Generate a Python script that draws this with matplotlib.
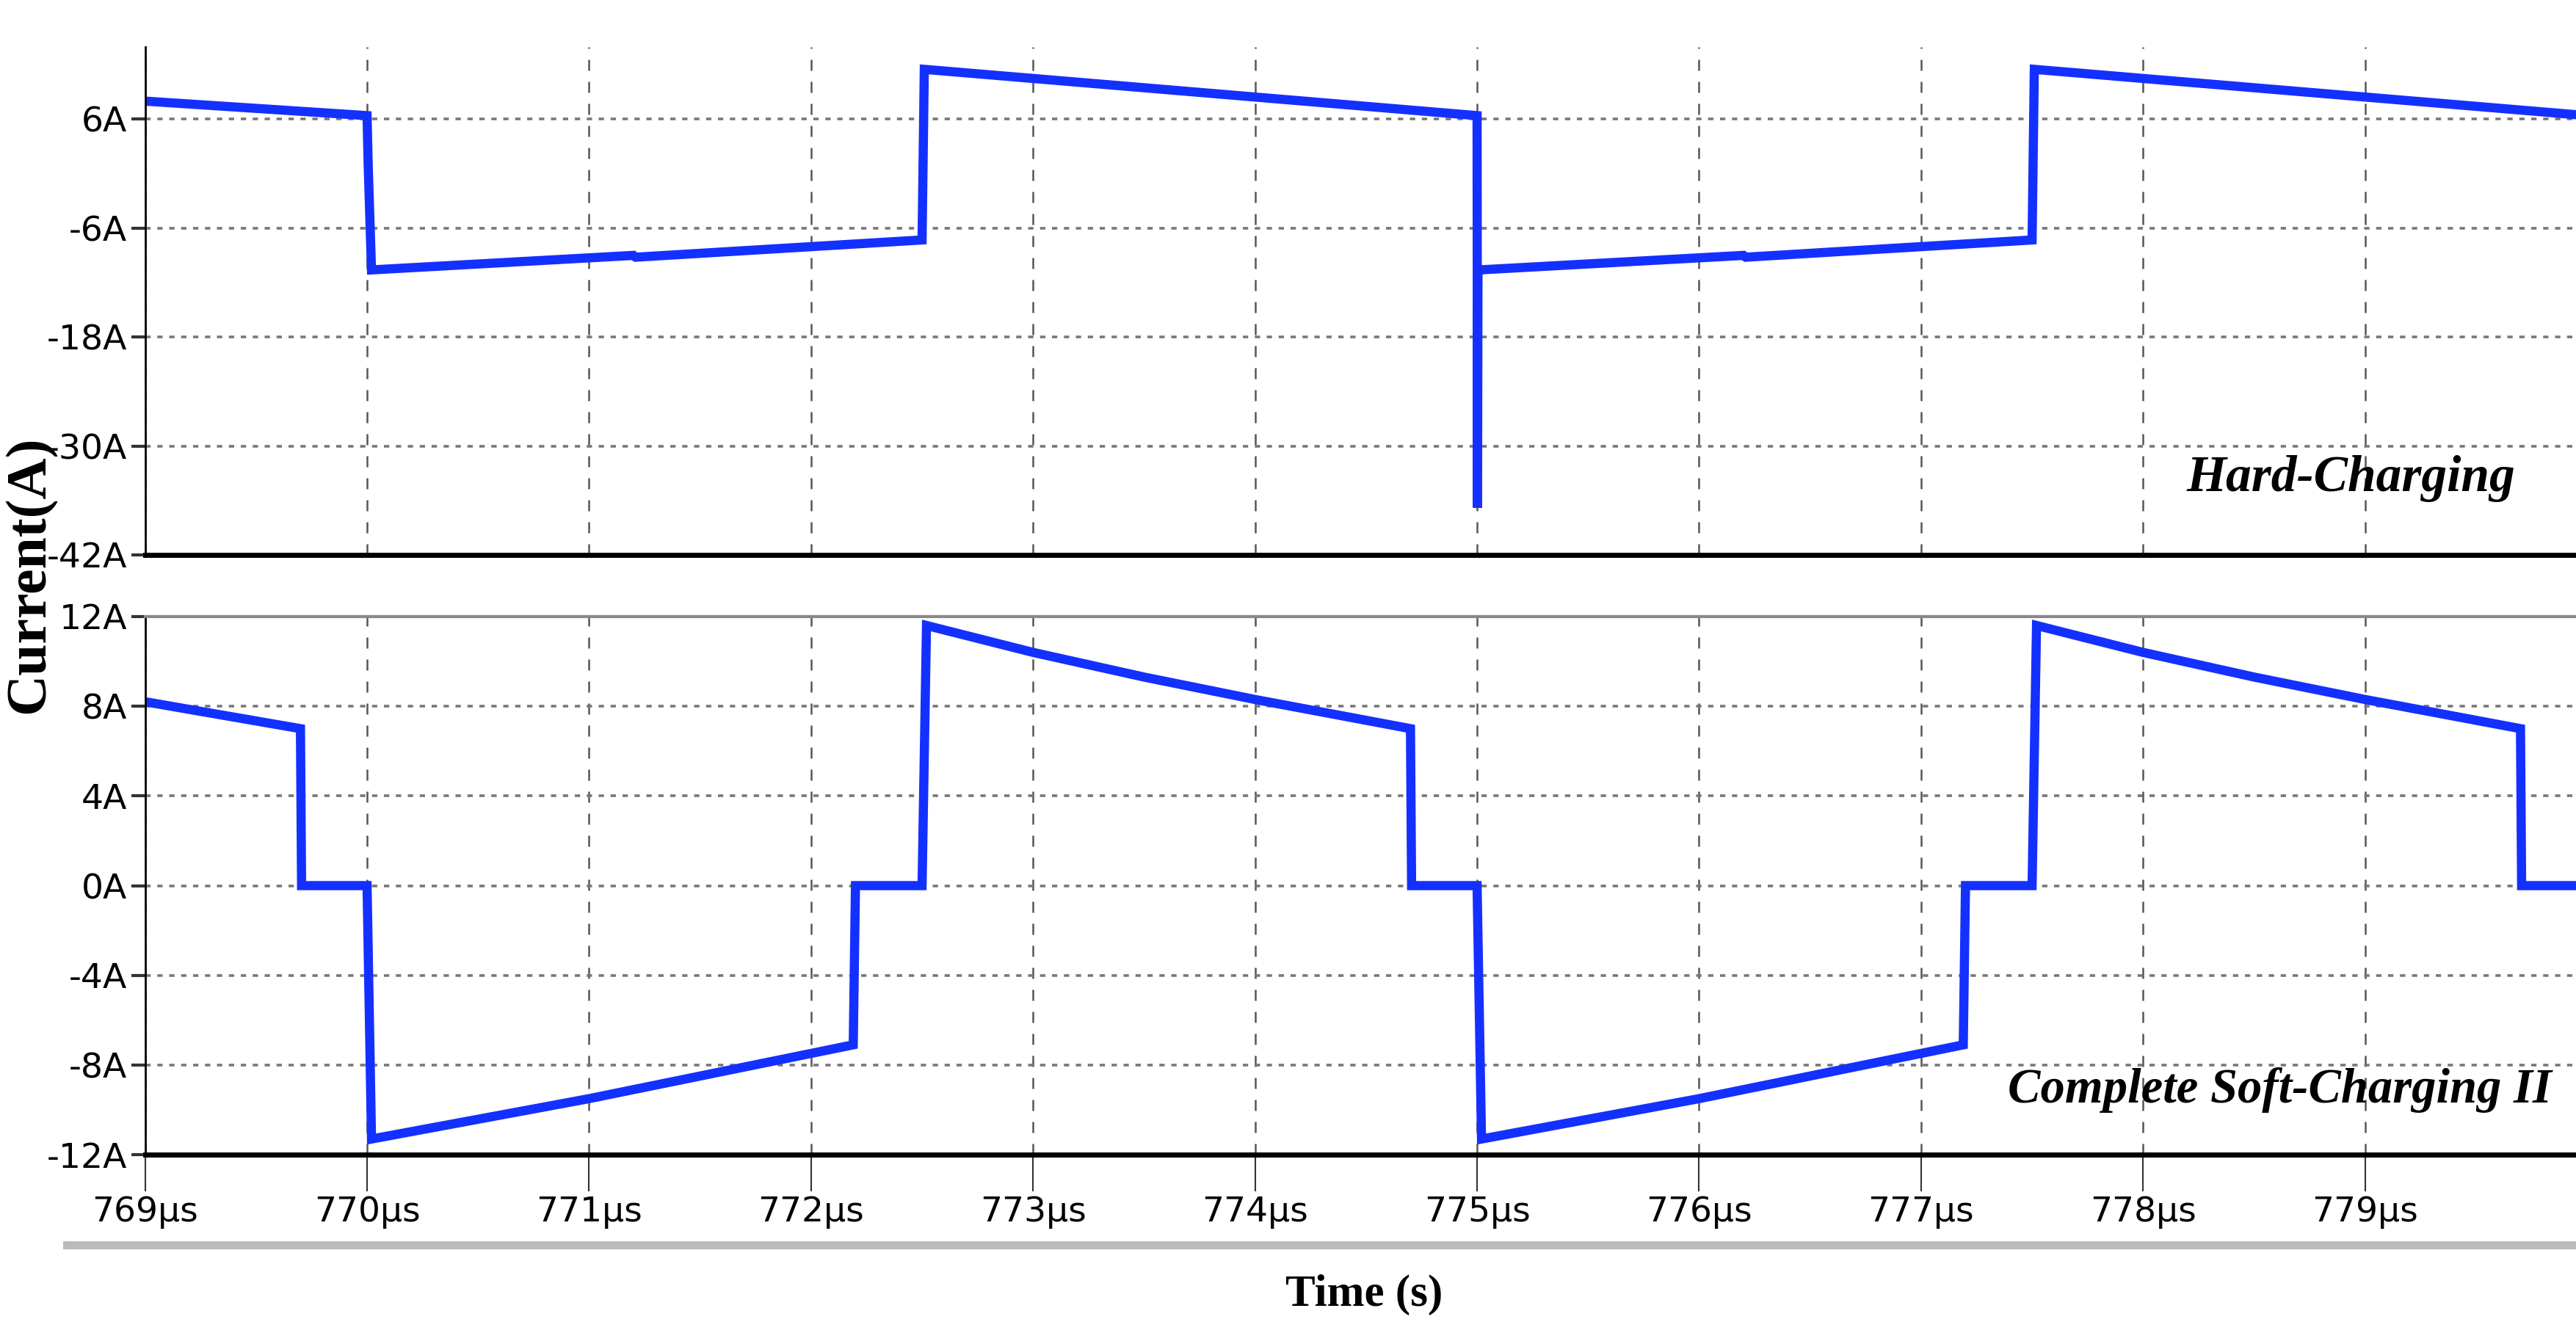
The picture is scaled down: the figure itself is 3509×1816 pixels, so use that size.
import matplotlib

matplotlib.use("Agg")
import matplotlib.pyplot as plt
from matplotlib.lines import Line2D

# Hard-charging inductor current (time in us, current in A)
hard_t = [769.0, 770.0, 770.005, 770.02, 771.2, 771.21, 772.5, 772.51,
          775.0, 775.002, 775.004, 775.01, 776.2, 776.21, 777.5, 777.51, 780.0]
hard_i = [8.0, 6.4, 1.0, -10.6, -9.0, -9.2, -7.3, 11.5,
          6.4, -36.8, -10.6, -10.6, -9.0, -9.2, -7.3, 11.5, 6.4]

# Complete soft-charging II inductor current
soft_t = [769.0, 769.7, 769.705, 770.0, 770.02, 771.0, 772.19, 772.2, 772.5, 772.52,
          773.0, 773.5, 774.0, 774.7, 774.705, 775.0, 775.02, 776.0, 777.19, 777.2,
          777.5, 777.52, 778.0, 778.5, 779.0, 779.7, 779.705, 780.0]
soft_i = [8.2, 7.0, 0.0, 0.0, -11.3, -9.5, -7.1, 0.0, 0.0, 11.6,
          10.4, 9.3, 8.3, 7.0, 0.0, 0.0, -11.3, -9.5, -7.1, 0.0,
          0.0, 11.6, 10.4, 9.3, 8.3, 7.0, 0.0, 0.0]

x_ticks = list(range(769, 780))
x_labels = [f"{v}\u00b5s" for v in x_ticks]
top_ticks = [6, -6, -18, -30, -42]
bot_ticks = [12, 8, 4, 0, -4, -8, -12]

BLUE = "#1430ff"
W, H = 1545, 800

fig = plt.figure(figsize=(35.09, 18.16), dpi=100)
ax1 = fig.add_axes([87 / W, 1 - 333 / H, 1 - 87 / W, (333 - 28) / H])
ax2 = fig.add_axes([87 / W, 1 - 693 / H, 1 - 87 / W, (693 - 370) / H])

for ax in (ax1, ax2):
    ax.set_xlim(769, 779.95)
    ax.set_xticks(x_ticks)
    ax.grid(axis="x", color="#555555", ls=(0, (6, 6)), lw=1.8)
    ax.grid(axis="y", color="#777777", ls=(0, (2, 2.5)), lw=2.6)
    ax.spines["right"].set_visible(False)
    ax.spines["left"].set_linewidth(2)
    ax.spines["bottom"].set_linewidth(5)
    ax.tick_params(axis="y", direction="out", length=14, width=3,
                   labelsize=34, color="#333333")

ax1.spines["top"].set_visible(False)
ax2.spines["top"].set_color("#888888")
ax2.spines["top"].set_linewidth(3)

ax1.plot(hard_t, hard_i, color=BLUE, lw=9, solid_joinstyle="miter")
ax1.set_ylim(-42, 14)
ax1.set_yticks(top_ticks)
ax1.set_yticklabels([f"{v}A" for v in top_ticks])
ax1.tick_params(axis="x", length=0, labelbottom=False)

ax2.plot(soft_t, soft_i, color=BLUE, lw=9, solid_joinstyle="miter")
ax2.set_ylim(-12, 12)
ax2.set_yticks(bot_ticks)
ax2.set_yticklabels([f"{v}A" for v in bot_ticks])
ax2.set_xticklabels(x_labels)
ax2.tick_params(axis="x", direction="out", length=36, width=1.5,
                labelsize=34, pad=4, color="#333333")

ax1.text(0.975, 0.15, "Hard-Charging", transform=ax1.transAxes, ha="right",
         va="center", family="Liberation Serif", weight="bold", style="italic",
         fontsize=50)
ax2.text(0.99, 0.12, "Complete Soft-Charging II", transform=ax2.transAxes,
         ha="right", va="center", family="Liberation Serif", weight="bold",
         style="italic", fontsize=48)

fig.text(18 / W, 1 - 345 / H, "Current(A)", rotation=90, ha="center",
         va="center", family="Liberation Serif", weight="bold", fontsize=56)
fig.text(818 / W, 1 - 777 / H, "Time (s)", ha="center", va="center",
         family="Liberation Serif", weight="bold", fontsize=44)

fig.add_artist(Line2D([40 / W, 1], [1 - 747 / H, 1 - 747 / H],
                      transform=fig.transFigure, color="#bbbbbb", lw=8))

fig.savefig("out.png", dpi=100)
